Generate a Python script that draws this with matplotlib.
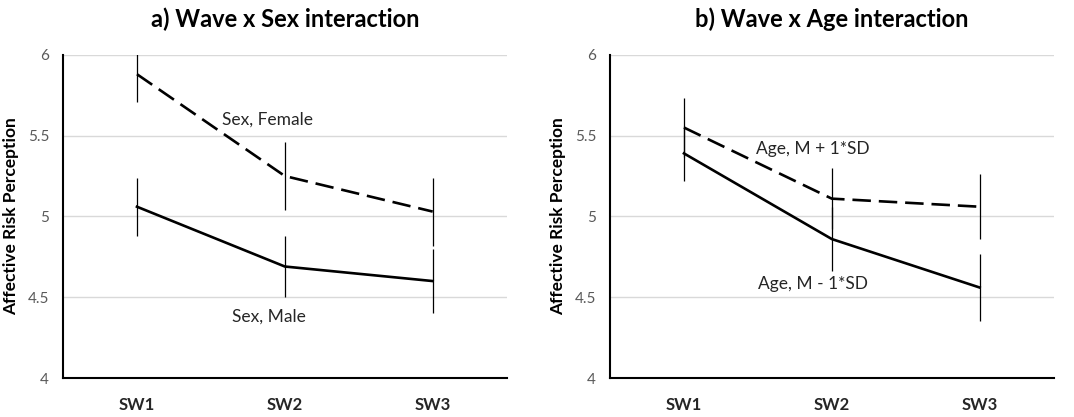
import matplotlib
matplotlib.use("Agg")
import matplotlib.pyplot as plt
import numpy as np

waves = ["SW1", "SW2", "SW3"]

# panel a) Wave x Sex
sex_female = [5.88, 5.25, 5.03]
sex_female_err = [0.17, 0.21, 0.21]
sex_male = [5.06, 4.69, 4.60]
sex_male_err = [0.18, 0.19, 0.20]

# panel b) Wave x Age
age_plus = [5.55, 5.11, 5.06]
age_plus_err = [0.18, 0.19, 0.20]
age_minus = [5.39, 4.86, 4.56]
age_minus_err = [0.17, 0.20, 0.21]

yticks = [4, 4.5, 5, 5.5, 6]
ytick_labels = ["4", "4.5", "5", "5.5", "6"]

plt.rcParams["font.family"] = ["Lato", "DejaVu Sans"]

fig = plt.figure(figsize=(10.74, 4.17), dpi=100)
ax_a = fig.add_axes([0.0587, 0.0935, 0.413, 0.775])
ax_b = fig.add_axes([0.568, 0.0935, 0.413, 0.775])


def draw_panel(ax, title, upper, upper_err, lower, lower_err, up_label, lo_label, up_pos, lo_pos):
    x = np.arange(len(waves))
    ax.errorbar(x, upper, yerr=upper_err, color="black", lw=1.9, dashes=(7, 3),
                elinewidth=0.9, capsize=0, zorder=3)
    ax.errorbar(x, lower, yerr=lower_err, color="black", lw=1.9,
                elinewidth=0.9, capsize=0, zorder=3)
    ax.set_xlim(-0.5, 2.5)
    ax.set_ylim(4, 6)
    ax.set_yticks(yticks)
    ax.set_yticklabels(ytick_labels)
    ax.set_xticks(x)
    ax.set_xticklabels(waves, fontweight="bold", fontsize=12, color="#262626")
    ax.tick_params(axis="x", length=0, pad=14)
    ax.tick_params(axis="y", length=0, pad=10, labelsize=11, labelcolor="#595959")
    ax.grid(axis="y", color="#d9d9d9", lw=1.0)
    ax.set_axisbelow(True)
    for side in ("top", "right"):
        ax.spines[side].set_visible(False)
    for side in ("left", "bottom"):
        ax.spines[side].set_linewidth(1.5)
        ax.spines[side].set_color("black")
    ax.set_ylabel("Affective Risk Perception", fontweight="bold", fontsize=12.5)
    ax.yaxis.set_label_coords(-0.099, 0.5)
    ax.set_title(title, fontweight="bold", fontsize=17, pad=20)
    ax.text(up_pos[0], up_pos[1], up_label, ha="center", va="center", fontsize=12.5, color="#262626")
    ax.text(lo_pos[0], lo_pos[1], lo_label, ha="center", va="center", fontsize=12.5, color="#262626")


draw_panel(ax_a, "a) Wave x Sex interaction", sex_female, sex_female_err, sex_male, sex_male_err,
           "Sex, Female", "Sex, Male", (0.88, 5.60), (0.89, 4.38))
draw_panel(ax_b, "b) Wave x Age interaction", age_plus, age_plus_err, age_minus, age_minus_err,
           "Age, M + 1*SD", "Age, M - 1*SD", (0.87, 5.42), (0.87, 4.58))

fig.savefig("out.png", dpi=100)
